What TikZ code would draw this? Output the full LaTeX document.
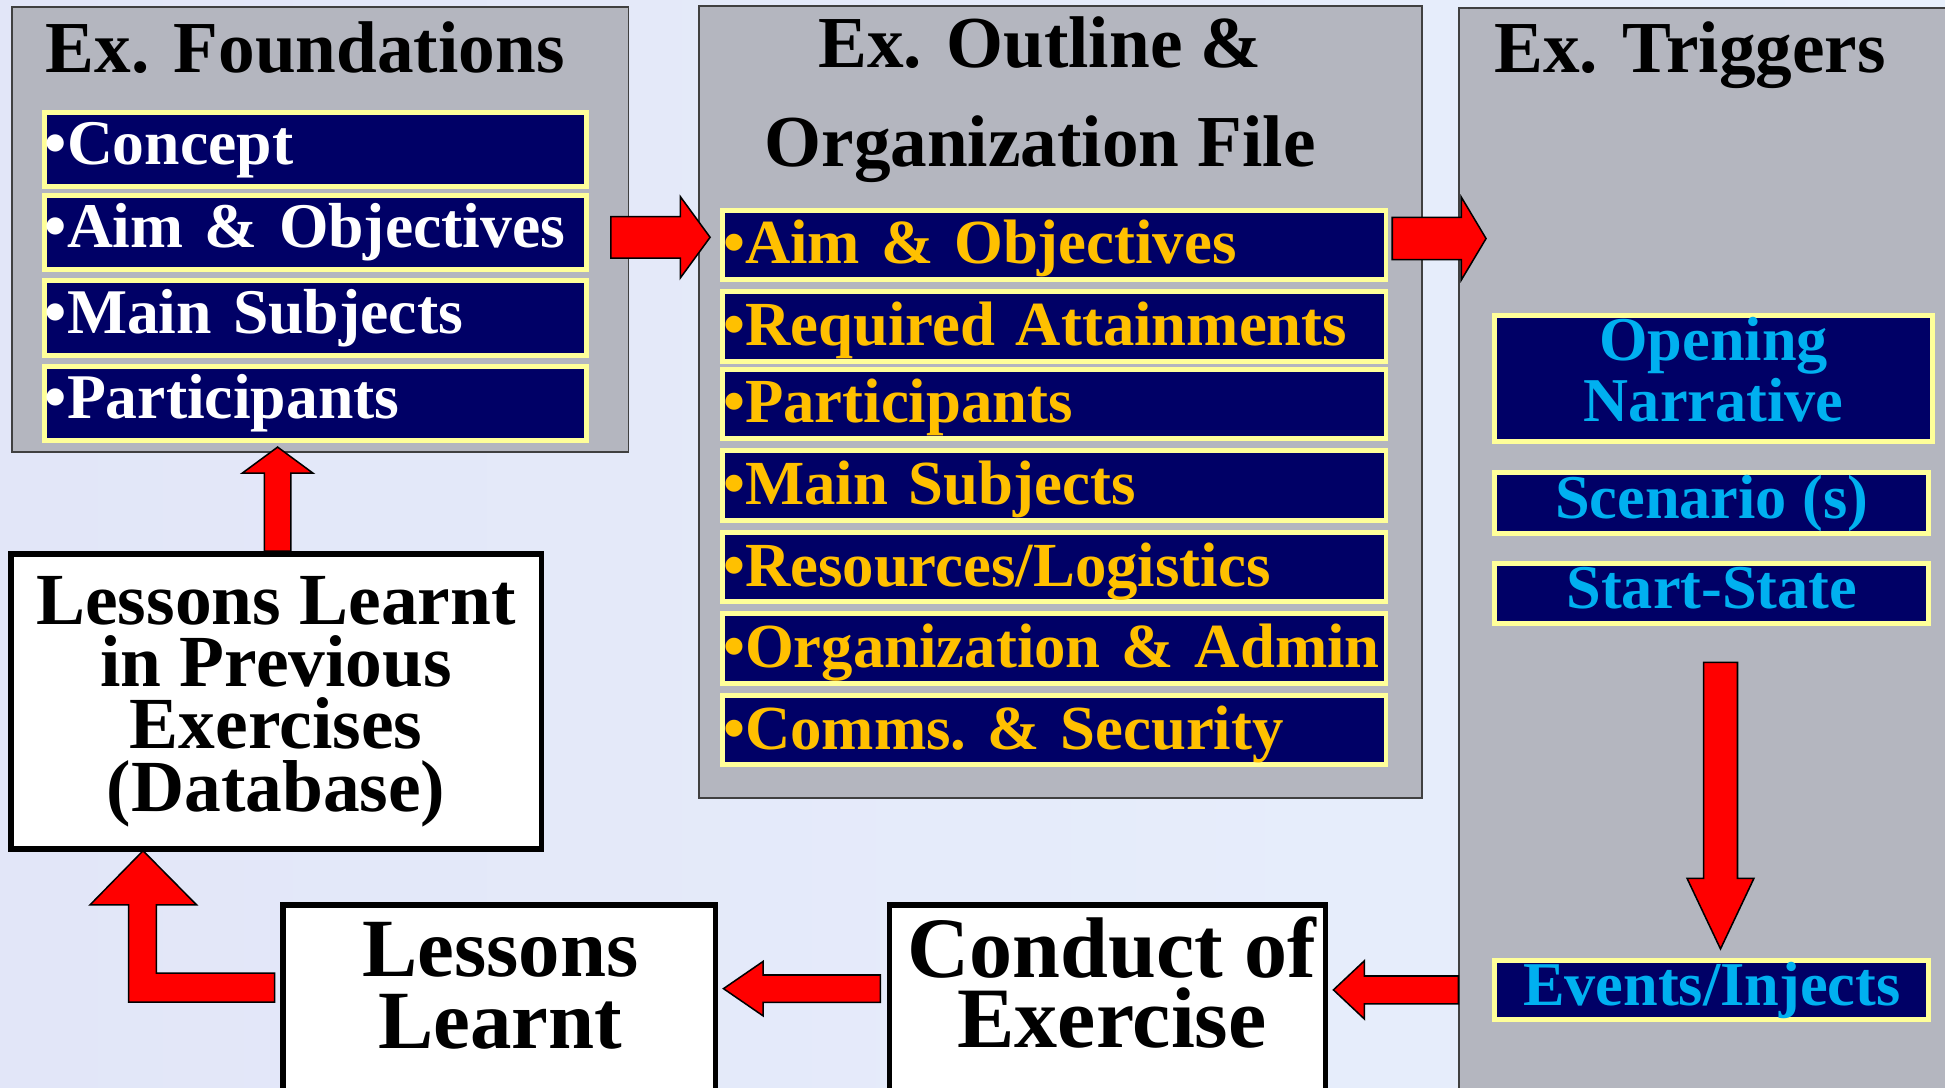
\documentclass[tikz,border=0pt]{standalone}
\usepackage{fontspec}
\setmainfont{Liberation Serif}
\usetikzlibrary{calc}

\definecolor{bgblue}{RGB}{226,230,248}
\definecolor{bglight}{RGB}{232,240,252}
\definecolor{panelgray}{RGB}{180,182,191}
\definecolor{itemnavy}{RGB}{0,0,102}
\definecolor{itemyellow}{RGB}{255,255,153}
\definecolor{itemgold}{RGB}{255,192,0}
\definecolor{itemcyan}{RGB}{0,176,240}

\newcommand{\nohyph}{\hyphenpenalty 10000 \exhyphenpenalty 10000 \frenchspacing}

% block arrow: tail, tip, shaft half width, head half width, head length
\newcommand{\fatarrow}[5]{%
  \coordinate (fab) at ($(#2)!#5!(#1)$);
  \draw[redarrow] ($(#1)!#3!90:(#2)$) -- ($(fab)!#3!-90:(#1)$) -- ($(fab)!#4!-90:(#1)$) -- (#2)
    -- ($(fab)!#4!90:(#1)$) -- ($(fab)!#3!90:(#1)$) -- ($(#1)!#3!-90:(#2)$) -- cycle;
}

\tikzset{
  panel/.style={shape=rectangle, draw=black!75, line width=0.85pt, fill=panelgray, anchor=north west, inner sep=0pt},
  paneltitle/.style={font=\fontsize{33.6}{45.5}\selectfont\bfseries, inner sep=0pt},
  fitem/.style={shape=rectangle, draw=itemyellow, line width=2.28pt, fill=itemnavy, text=white,
    font=\fontsize{29.2}{36}\selectfont\bfseries\nohyph, text width=8.73cm, align=left,
    inner xsep=0.01cm, inner ysep=0pt, minimum height=1.20cm, text height=0.70cm, text depth=0.21cm},
  oitem/.style={fitem, text=itemgold, font=\fontsize{28.8}{36}\selectfont\bfseries\nohyph,
    text width=10.68cm, minimum height=1.12cm, text height=0.68cm, text depth=0.07cm},
  titem/.style={shape=rectangle, draw=itemyellow, line width=2.28pt, fill=itemnavy, text=itemcyan,
    font=\fontsize{28.6}{27.9}\selectfont\bfseries, align=center, minimum width=7.0cm, inner sep=0pt},
  tline/.style={titem, text height=0.66cm, text depth=0.16cm},
  wbox/.style={shape=rectangle, draw=black, line width=2.56pt, fill=white, inner sep=0pt},
  redarrow/.style={draw=black, line width=0.7pt, fill=red, line join=miter},
}

\begin{document}
\begin{tikzpicture}[x=0.02cm,y=-0.02cm]
  \useasboundingbox (0,0) rectangle (1568,877);
  \clip (0,0) rectangle (1568,877);
  \fill[left color=bgblue, right color=bglight] (0,0) rectangle (1568,877);

  % panels
  \node[panel, minimum width=9.94cm, minimum height=7.18cm] (found) at (9,5) {};
  \node[panel, minimum width=11.66cm, minimum height=12.78cm] (outline) at (563,4) {};
  \node[panel, minimum width=8.4cm, minimum height=18cm] (trig) at (1175.6,5.6) {};

  \node[paneltitle, anchor=base] (ftitle) at (246,58.5) {Ex. Foundations};
  \node[paneltitle, anchor=north, align=center] (otitle) at (838.5,13.3) {Ex. Outline \&\\Organization File};
  \node[paneltitle, anchor=base] (ttitle) at (1362.5,58.7) {Ex. Triggers};

  % foundations
  \node[fitem] (concept) at (254.3,120.6) {•Concept};
  \node[fitem] (aimf) at (254.3,187.6) {•Aim \& Objectives};
  \node[fitem] (mainf) at (254.3,256.5) {•Main Subjects};
  \node[fitem] (partf) at (254.3,325.2) {•Participants};

  % outline and organization file
  \node[oitem] (aimo) at (849.9,197.3) {•Aim \& Objectives};
  \node[oitem] (reqo) at (849.9,263.1) {•Required Attainments};
  \node[oitem] (parto) at (849.9,325.7) {•Participants};
  \node[oitem] (maino) at (849.9,391.4) {•Main Subjects};
  \node[oitem] (reso) at (849.9,457.2) {•Resources/Logistics};
  \node[oitem] (orgo) at (849.9,522.9) {•Organization \& Admin};
  \node[oitem] (commo) at (849.9,588.6) {•Comms. \& Security};

  % triggers
  \node[titem, minimum width=7.06cm, minimum height=2.04cm] (open) at (1381.5,305) {Opening\\Narrative\rule[-0.28cm]{0pt}{0.28cm}};
  \node[tline, minimum height=0.98cm] (scen) at (1380,405.5) {Scenario (s)};
  \node[tline, minimum height=0.97cm] (start) at (1380,478.2) {Start-State};
  \node[tline, minimum height=0.96cm] (events) at (1380,798) {Events/Injects};

  % white boxes
  \node[wbox, minimum width=8.556cm, minimum height=4.758cm, align=center,
    font=\fontsize{33.7}{28.6}\selectfont\bfseries] (llprev) at (222.6,565.5) {Lessons Learnt\\in Previous\\Exercises\\(Database)};
  \node[wbox, minimum width=6.97cm, minimum height=5.41cm] (lessons) at (402.5,864.6) {};
  \node[anchor=north, align=center, inner sep=0pt, font=\fontsize{38}{33}\selectfont\bfseries] (lessonst) at (403.3,743) {Lessons\\Learnt};
  \node[wbox, minimum width=7.03cm, minimum height=5.41cm] (conduct) at (892.7,864.6) {};
  \node[anchor=north, align=center, inner sep=0pt, font=\fontsize{39.5}{32}\selectfont\bfseries] (conductt) at (896.5,739) {Conduct of\\Exercise};

  % arrows
  \coordinate (a1t) at ($(found.east |- aimo.west)+(-15,-6)$);
  \coordinate (a1h) at ($(aimo.west)+(-8,-6)$);
  \fatarrow{a1t}{a1h}{0.334cm}{0.656cm}{0.48cm}

  \coordinate (a2t) at ($(outline.east |- aimo.east)+(-25,-5)$);
  \coordinate (a2h) at ($(trig.west |- aimo.east)+(22.4,-5)$);
  \fatarrow{a2t}{a2h}{0.34cm}{0.67cm}{0.40cm}

  \coordinate (a3t) at ($(start.south)+(7,29.5)$);
  \coordinate (a3h) at ($(events.north)+(7,-7)$);
  \fatarrow{a3t}{a3h}{0.274cm}{0.54cm}{1.14cm}

  \coordinate (a4t) at (trig.west |- events.west);
  \coordinate (a4h) at ($(conduct.east |- events.west)+(4.3,0)$);
  \fatarrow{a4t}{a4h}{0.224cm}{0.47cm}{0.50cm}

  \coordinate (a5t) at ($(conduct.west |- events.west)+(-5,-1)$);
  \coordinate (a5h) at ($(lessons.east |- events.west)+(4.3,-1)$);
  \fatarrow{a5t}{a5h}{0.22cm}{0.44cm}{0.64cm}

  \draw[redarrow] ($(lessons.north west)+(-4.6,57.4)$) -- ++(-95.3,0) -- ++(0,-55) -- ++(32.4,0)
    -- ++(-43.2,-43.7) -- ++(-42.8,43.7) -- ++(31.2,0) -- ++(0,78.3) -- ++(117.7,0) -- cycle;

  \coordinate (a7t) at ($(llprev.north)+(1.2,0)$);
  \coordinate (a7h) at ($(llprev.north |- found.south)+(1.2,-5)$);
  \fatarrow{a7t}{a7h}{0.214cm}{0.57cm}{0.42cm}
\end{tikzpicture}
\end{document}
